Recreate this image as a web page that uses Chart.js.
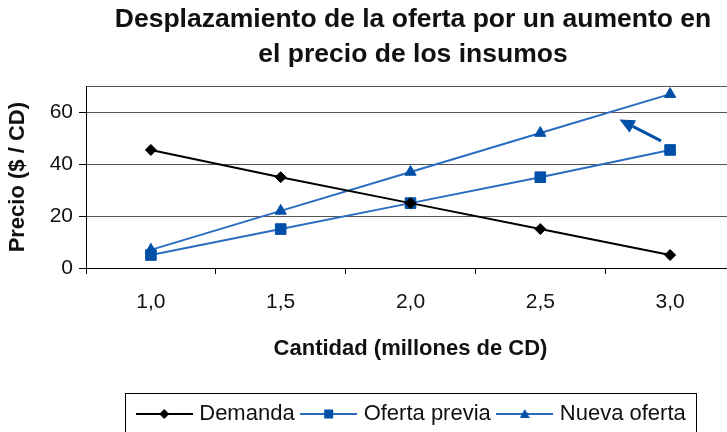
<!DOCTYPE html>
<html>
<head>
<meta charset="utf-8">
<script src="https://cdn.jsdelivr.net/npm/chart.js@4/dist/chart.umd.min.js"></script>
<style>
  html, body { margin: 0; padding: 0; background: #fff; overflow: hidden; }
  #grafico { display: block; }
</style>
</head>
<body>
<canvas id="grafico" width="826" height="435"></canvas>
<script>
// datos
const cantidades = ["1,0", "1,5", "2,0", "2,5", "3,0"];
const demanda = [45.5, 35, 25, 15, 5];
const ofertaPrevia = [5, 15, 25, 35, 45.5];
const nuevaOferta = [7, 22, 37, 52, 67];
const precioMax = 70;
const precioPaso = 20;
// flecha: [indice de categoria, precio]
const flechaDesde = [3.93, 49];
const flechaHasta = [3.61, 57.2];

const AZUL_LINEA = "#2a6cc0";
const AZUL_MARCA = "#0050a8";

// icono de leyenda: linea con marcador en el centro
function iconoLeyenda(color, marca, estilo, r) {
  const c = document.createElement("canvas");
  c.width = 57;
  c.height = 16;
  const ctx = c.getContext("2d");
  ctx.strokeStyle = color;
  ctx.lineWidth = 2;
  ctx.beginPath();
  ctx.moveTo(0, 8);
  ctx.lineTo(57, 8);
  ctx.stroke();
  ctx.fillStyle = marca;
  ctx.beginPath();
  if (estilo === "diamante") {
    ctx.moveTo(28.5, 8 - r); ctx.lineTo(28.5 + r, 8); ctx.lineTo(28.5, 8 + r); ctx.lineTo(28.5 - r, 8);
  } else if (estilo === "cuadro") {
    ctx.rect(28.5 - r, 8 - r, 2 * r, 2 * r);
  } else {
    ctx.moveTo(28.5, 8 - r); ctx.lineTo(28.5 + r, 8 + r * 0.8); ctx.lineTo(28.5 - r, 8 + r * 0.8);
  }
  ctx.closePath();
  ctx.fill();
  return c;
}

const iconos = [
  iconoLeyenda("#000", "#000", "diamante", 5),
  iconoLeyenda(AZUL_LINEA, AZUL_MARCA, "cuadro", 4.5),
  iconoLeyenda(AZUL_LINEA, AZUL_MARCA, "triangulo", 5),
];

const flechaPlugin = {
  id: "flecha",
  afterDatasetsDraw(chart) {
    const { ctx, scales: { x, y } } = chart;
    const x0 = x.getPixelForValue(flechaDesde[0]), y0 = y.getPixelForValue(flechaDesde[1]);
    const x1 = x.getPixelForValue(flechaHasta[0]), y1 = y.getPixelForValue(flechaHasta[1]);
    const ang = Math.atan2(y1 - y0, x1 - x0);
    const largo = 15, ancho = 7;
    const bx = x1 - Math.cos(ang) * largo, by = y1 - Math.sin(ang) * largo;
    ctx.save();
    ctx.strokeStyle = AZUL_MARCA;
    ctx.fillStyle = AZUL_MARCA;
    ctx.lineWidth = 3;
    ctx.beginPath();
    ctx.moveTo(x0, y0);
    ctx.lineTo(bx, by);
    ctx.stroke();
    ctx.beginPath();
    ctx.moveTo(x1, y1);
    ctx.lineTo(bx + Math.sin(ang) * ancho, by - Math.cos(ang) * ancho);
    ctx.lineTo(bx - Math.sin(ang) * ancho, by + Math.cos(ang) * ancho);
    ctx.closePath();
    ctx.fill();
    ctx.restore();
  },
};

const marcoLeyenda = {
  id: "marcoLeyenda",
  afterDraw(chart) {
    const cajas = chart.legend && chart.legend.legendItems && chart.legend.legendHitBoxes;
    if (!cajas || !cajas.length) return;
    const izq = cajas[0].left - 15.5;
    const der = cajas[cajas.length - 1].left + cajas[cajas.length - 1].width + 10;
    const centro = cajas[0].top + cajas[0].height / 2;
    const ctx = chart.ctx;
    ctx.save();
    ctx.strokeStyle = "#000";
    ctx.lineWidth = 1;
    ctx.strokeRect(Math.round(izq) + 0.5, Math.round(centro - 21) + 0.5, Math.round(der - izq), 60);
    ctx.restore();
  },
};

new Chart(document.getElementById("grafico"), {
  type: "line",
  data: {
    labels: cantidades,
    datasets: [
      {
        label: "Demanda",
        data: demanda,
        borderColor: "#000",
        backgroundColor: "#000",
        borderWidth: 2,
        pointStyle: "rectRot",
        pointRadius: 5.5,
        pointBorderWidth: 1,
        tension: 0,
      },
      {
        label: "Oferta previa",
        data: ofertaPrevia,
        borderColor: AZUL_LINEA,
        backgroundColor: AZUL_MARCA,
        pointBorderColor: AZUL_MARCA,
        borderWidth: 2,
        pointStyle: "rect",
        pointRadius: 7.5,
        pointBorderWidth: 1,
        tension: 0,
      },
      {
        label: "Nueva oferta",
        data: nuevaOferta,
        borderColor: AZUL_LINEA,
        backgroundColor: AZUL_MARCA,
        pointBorderColor: AZUL_MARCA,
        borderWidth: 2,
        pointStyle: "triangle",
        pointRadius: 6.5,
        pointBorderWidth: 1,
        tension: 0,
      },
    ],
  },
  options: {
    responsive: false,
    animation: false,
    layout: { padding: 0 },
    plugins: {
      title: {
        display: true,
        text: ["Desplazamiento de la oferta por un aumento en", "el precio de los insumos"],
        color: "#111",
        font: { family: "'Liberation Sans', Arial, sans-serif", size: 26.5, weight: "bold", lineHeight: 1.29 },
        padding: { top: 3, bottom: 15 },
      },
      legend: {
        position: "bottom",
        labels: {
          usePointStyle: true,
          pointStyleWidth: 48,
          boxHeight: 22,
          padding: 10,
          color: "#111",
          font: { family: "'Liberation Sans', Arial, sans-serif", size: 22 },
          generateLabels: (chart) =>
            Chart.defaults.plugins.legend.labels.generateLabels(chart).map((it, i) => ({ ...it, pointStyle: iconos[i] })),
        },
      },
      tooltip: { enabled: false },
    },
    scales: {
      x: {
        offset: true,
        grid: { offset: true, drawOnChartArea: false, tickLength: 6, color: "#000" },
        border: { color: "#000", width: 1 },
        ticks: {
          padding: 16,
          color: "#111",
          font: { family: "'Liberation Sans', Arial, sans-serif", size: 21 },
          maxRotation: 0,
        },
        title: {
          display: true,
          text: "Cantidad (millones de CD)",
          color: "#111",
          font: { family: "'Liberation Sans', Arial, sans-serif", size: 22, weight: "bold" },
          padding: { top: 0, bottom: 31 },
        },
        afterFit: (s) => { s.height = 125; },
      },
      y: {
        min: 0,
        max: precioMax,
        grid: {
          color: "#555",
          tickLength: 7,
          tickColor: (c) => (c.tick && c.tick.value === precioMax ? "rgba(0,0,0,0)" : "#000"),
        },
        border: { color: "#000", width: 1 },
        ticks: {
          stepSize: precioPaso,
          padding: 6,
          color: "#111",
          font: { family: "'Liberation Sans', Arial, sans-serif", size: 21 },
          callback: (v) => (v === precioMax ? "" : v),
        },
        title: {
          display: true,
          text: "Precio ($ / CD)",
          color: "#111",
          font: { family: "'Liberation Sans', Arial, sans-serif", size: 22, weight: "bold" },
          padding: { top: 5, bottom: 0 },
        },
        afterFit: (s) => { s.width = 86; },
      },
      derecha: {
        type: "linear",
        position: "right",
        display: true,
        grid: { display: false, drawTicks: false },
        border: { display: false },
        ticks: { display: false },
        afterFit: (s) => { s.width = 91; },
      },
    },
  },
  plugins: [flechaPlugin, marcoLeyenda],
});
</script>
</body>
</html>
